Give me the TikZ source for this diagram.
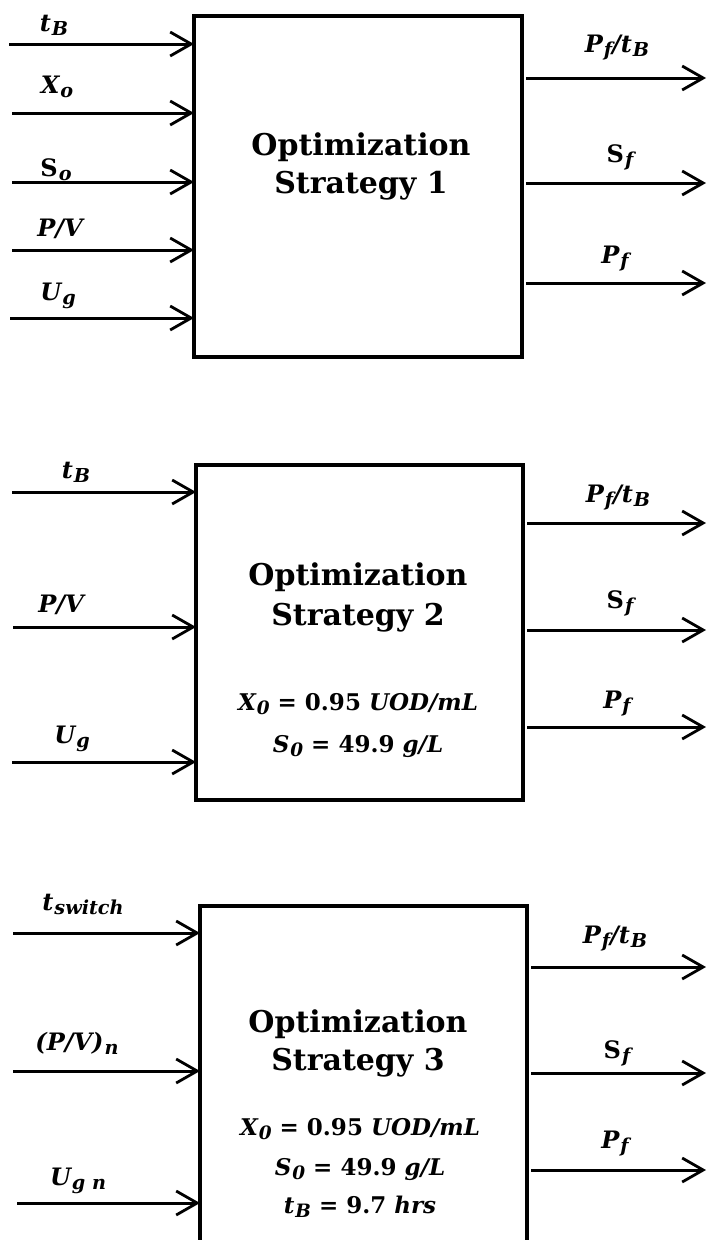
\documentclass[tikz,border=0pt]{standalone}
\usepackage{fontspec}
\setmainfont{DejaVu Serif}
\usetikzlibrary{arrows.meta}
\newcommand\lo[1]{\kern1pt\raisebox{-0.35ex}{\scalebox{0.8}{#1}}}
\tikzset{
  arr/.style={line width=3pt, -{Straight Barb[length=21pt,width=24pt,line width=2.8pt]}},
  outarr/.style={arr, shorten <=4pt},
  blk/.style={draw, line width=3.5pt, rectangle, inner sep=0pt, outer sep=0pt},
  lab/.style={font=\fontsize{24}{28}\selectfont\bfseries\itshape, inner sep=0pt, anchor=base},
  ttl/.style={font=\fontsize{30}{34}\selectfont\bfseries, inner sep=0pt, anchor=base},
  eqn/.style={font=\fontsize{23}{28}\selectfont\bfseries, inner sep=0pt, anchor=base}
}
\begin{document}
\begin{tikzpicture}[x=1pt,y=-1pt]
\useasboundingbox (0,0) rectangle (707,1240);
\clip (0,0) rectangle (707,1240);

% ---------------- Block 1 ----------------
\node[blk, minimum width=328pt, minimum height=341pt] (box1) at (358,186.5) {};
\node[ttl] (t1a) at (361,155) {Optimization};
\node[ttl] (t1b) at (361,193) {Strategy 1};

\coordinate (i1a) at (9,44);
\coordinate (i1b) at (12,113);
\coordinate (i1c) at (12,182);
\coordinate (i1d) at (12,250);
\coordinate (i1e) at (10,318);
\draw[arr] (i1a) -- (i1a -| box1.west);
\draw[arr] (i1b) -- (i1b -| box1.west);
\draw[arr] (i1c) -- (i1c -| box1.west);
\draw[arr] (i1d) -- (i1d -| box1.west);
\draw[arr] (i1e) -- (i1e -| box1.west);
\node[lab] (l1a) at (54,31) {t\lo{B}};
\node[lab] (l1b) at (57,93) {X\lo{o}};
\node[lab] (l1c) at (56,176) {\upshape S\lo{\itshape o}};
\node[lab] (l1d) at (60,236) {P/V};
\node[lab] (l1e) at (58,300) {U\lo{g}};

\coordinate (o1a) at (706,78);
\coordinate (o1b) at (706,183);
\coordinate (o1c) at (706,283);
\draw[outarr] (o1a -| box1.east) -- (o1a);
\draw[outarr] (o1b -| box1.east) -- (o1b);
\draw[outarr] (o1c -| box1.east) -- (o1c);
\node[lab] (m1a) at (617,52) {P\lo{f}/t\lo{B}};
\node[lab] (m1b) at (620,162) {\upshape S\lo{\itshape f}};
\node[lab] (m1c) at (615,263) {P\lo{f}};

% ---------------- Block 2 ----------------
\node[blk, minimum width=327pt, minimum height=335pt] (box2) at (359.5,632.5) {};
\node[ttl] (t2a) at (358,585) {Optimization};
\node[ttl] (t2b) at (358,625) {Strategy 2};
\node[eqn] (e2a) at (358,710) {\itshape X\lo{0} \upshape= 0.95 \itshape UOD/mL};
\node[eqn] (e2b) at (358,752) {\itshape S\lo{0} \upshape= 49.9 \itshape g/L};

\coordinate (i2a) at (12,492);
\coordinate (i2b) at (13,627);
\coordinate (i2c) at (12,762);
\draw[arr] (i2a) -- (i2a -| box2.west);
\draw[arr] (i2b) -- (i2b -| box2.west);
\draw[arr] (i2c) -- (i2c -| box2.west);
\node[lab] (l2a) at (76,478) {t\lo{B}};
\node[lab] (l2b) at (61,612) {P/V};
\node[lab] (l2c) at (72,743) {U\lo{g}};

\coordinate (o2a) at (706,523);
\coordinate (o2b) at (706,630);
\coordinate (o2c) at (706,727);
\draw[outarr] (o2a -| box2.east) -- (o2a);
\draw[outarr] (o2b -| box2.east) -- (o2b);
\draw[outarr] (o2c -| box2.east) -- (o2c);
\node[lab] (m2a) at (618,502) {P\lo{f}/t\lo{B}};
\node[lab] (m2b) at (620,608) {\upshape S\lo{\itshape f}};
\node[lab] (m2c) at (617,708) {P\lo{f}};

% ---------------- Block 3 ----------------
\node[blk, minimum width=327pt, minimum height=354pt] (box3) at (363.5,1083) {};
\node[ttl] (t3a) at (358,1032) {Optimization};
\node[ttl] (t3b) at (358,1070) {Strategy 3};
\node[eqn] (e3a) at (360,1135) {\itshape X\lo{0} \upshape= 0.95 \itshape UOD/mL};
\node[eqn] (e3b) at (360,1175) {\itshape S\lo{0} \upshape= 49.9 \itshape g/L};
\node[eqn] (e3c) at (360,1213) {\itshape t\lo{B} \upshape= 9.7 \itshape hrs};

\coordinate (i3a) at (13,933);
\coordinate (i3b) at (13,1071);
\coordinate (i3c) at (17,1203);
\draw[arr] (i3a) -- (i3a -| box3.west);
\draw[arr] (i3b) -- (i3b -| box3.west);
\draw[arr] (i3c) -- (i3c -| box3.west);
\node[lab] (l3a) at (83,910) {t\lo{switch}};
\node[lab] (l3b) at (77,1050) {(P/V)\lo{n}};
\node[lab] (l3c) at (78,1185) {U\lo{g n}};

\coordinate (o3a) at (706,967);
\coordinate (o3b) at (706,1073);
\coordinate (o3c) at (706,1170);
\draw[outarr] (o3a -| box3.east) -- (o3a);
\draw[outarr] (o3b -| box3.east) -- (o3b);
\draw[outarr] (o3c -| box3.east) -- (o3c);
\node[lab] (m3a) at (615,943) {P\lo{f}/t\lo{B}};
\node[lab] (m3b) at (617,1058) {\upshape S\lo{\itshape f}};
\node[lab] (m3c) at (615,1148) {P\lo{f}};
\end{tikzpicture}
\end{document}
